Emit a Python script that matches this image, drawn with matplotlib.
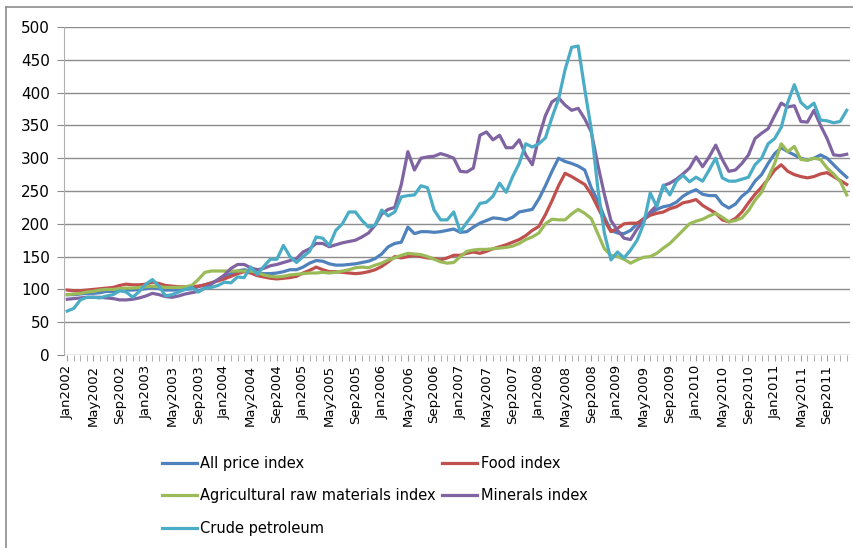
import matplotlib
matplotlib.use('Agg')
import matplotlib.pyplot as plt
from matplotlib.lines import Line2D

# monthly indices, Jan 2002 .. Dec 2011 (2000 = 100)
all_price = [92, 92, 93, 94, 94, 95, 97, 97, 98, 99, 99, 100,
             101, 103, 101, 99, 99, 99, 100, 101, 104, 107, 110, 114,
             119, 124, 128, 130, 128, 125, 124, 124, 125, 127, 130, 130,
             134, 140, 144, 143, 139, 137, 137, 138, 139, 141, 143, 147,
             154, 165, 170, 172, 195, 185, 188, 188, 187, 188, 190, 192,
             187, 188, 195, 201, 205, 209, 208, 206, 210, 218, 220, 222,
             238, 258, 280, 300, 295, 292, 288, 282, 255, 235, 210, 190,
             186, 185, 190, 200, 208, 216, 222, 226, 228, 233, 242, 248,
             252, 245, 243, 243, 230, 224, 230, 242, 250, 265, 275, 292,
             307, 316, 310, 305, 300, 297, 300, 305, 300, 290, 280, 271]

food = [99, 98, 98, 99, 100, 101, 102, 103, 106, 108, 107, 107,
        108, 111, 109, 106, 105, 104, 104, 104, 105, 107, 110, 113,
        116, 120, 124, 127, 125, 121, 119, 117, 116, 117, 118, 120,
        125, 129, 134, 130, 127, 127, 126, 125, 124, 125, 127, 130,
        135, 142, 150, 148, 150, 152, 150, 148, 147, 145, 148, 152,
        152, 155, 157, 155, 158, 162, 165, 168, 172, 176, 182, 190,
        196, 214, 235, 258, 277, 272, 266, 260, 245, 225, 205, 188,
        193, 200, 201, 201, 207, 213, 216, 218, 223, 226, 232, 234,
        237, 228, 222, 216, 206, 203, 208, 218, 232, 245, 256, 268,
        282, 290, 280, 275, 272, 270, 272, 276, 278, 272, 266, 260]

agri = [92, 93, 94, 96, 97, 99, 100, 100, 101, 102, 102, 103,
        104, 105, 104, 103, 103, 103, 104, 106, 115, 126, 128, 128,
        128, 128, 128, 128, 128, 126, 122, 120, 119, 120, 122, 123,
        124, 125, 125, 126, 125, 126, 128, 130, 133, 134, 133, 137,
        140, 145, 148, 152, 155, 154, 153, 150, 146, 142, 140, 141,
        150, 158, 160, 161, 161, 162, 163, 164, 166, 170, 176, 180,
        186, 200, 207, 206, 206, 215, 222, 216, 208, 185, 162, 152,
        150, 146, 140, 145, 149, 150, 155, 163, 170, 180, 190, 200,
        204, 207, 212, 216, 210, 203, 205, 209, 220, 236, 248, 270,
        292, 322, 310, 318, 298, 297, 300, 298, 285, 276, 265, 244]

minerals = [85, 86, 87, 88, 88, 88, 87, 86, 84, 84, 85, 87,
            90, 94, 92, 89, 88, 90, 93, 95, 97, 102, 108, 115,
            122, 132, 138, 138, 133, 130, 132, 136, 138, 141, 144, 147,
            157, 162, 170, 170, 165, 168, 171, 173, 175, 180, 186, 198,
            215, 222, 225, 260, 310, 282, 300, 302, 303, 307, 304, 300,
            280, 279, 285, 335, 340, 328, 335, 316, 316, 328, 305, 290,
            332, 365, 386, 392, 381, 373, 376, 360, 340, 290, 245, 205,
            190, 178, 176, 192, 205, 218, 228, 258, 262, 268, 276, 285,
            302, 287, 302, 320, 298, 280, 282, 292, 305, 330, 338, 345,
            365, 384, 378, 380, 356, 355, 373, 350, 330, 305, 304, 306]

crude = [67, 71, 84, 88, 88, 87, 90, 92, 98, 96, 88, 97,
         108, 115, 105, 90, 92, 96, 100, 103, 96, 102, 103, 106,
         111, 110, 119, 118, 134, 123, 135, 146, 146, 167, 150, 141,
         150, 158, 180, 178, 167, 190, 200, 218, 218, 205, 195, 198,
         221, 212, 218, 241, 243, 244, 258, 255, 221, 206, 206, 218,
         188, 202, 215, 231, 233, 242, 262, 248, 272, 292, 322, 317,
         322, 331, 362, 390, 435, 469, 471, 405, 344, 254, 186, 145,
         157, 148, 160, 175, 200, 247, 226, 259, 244, 265, 274, 264,
         271, 265, 282, 300, 270, 265, 265, 268, 271, 290, 300, 322,
         330, 347, 385, 412, 385, 376, 384, 358, 357, 354, 356, 373]

month_names = ['Jan', 'May', 'Sep']
years = list(range(2002, 2012))
tick_labels = [f'{m}{y}' for y in years for m in month_names]

series = [
    ('All price index', all_price, '#4F81BD'),
    ('Food index', food, '#C0504D'),
    ('Agricultural raw materials index', agri, '#9BBB59'),
    ('Minerals index', minerals, '#8064A2'),
    ('Crude petroleum', crude, '#4BACC6'),
]

W, H = 854, 548
fig = plt.figure(figsize=(W / 100, H / 100), dpi=100)
ax = fig.add_axes([64 / W, 1 - 355 / H, (850 - 64) / W, 328 / H])

x = list(range(len(all_price)))
lines = {}
for name, vals, col in series:
    lines[name], = ax.plot(x, vals, color=col, lw=2.3, solid_joinstyle='round', label=name)

ax.set_xlim(-0.5, len(x) - 0.5)
ax.set_ylim(0, 500)
ax.set_yticks(range(0, 501, 50))
ax.yaxis.grid(True, color='#8c8c8c', lw=1.0)
ax.set_axisbelow(True)
for s in ['top', 'right', 'bottom']:
    ax.spines[s].set_visible(False)
ax.spines['left'].set_color('#b0b0b0')
ax.tick_params(axis='y', length=5, color='#8c8c8c', pad=5, labelsize=11)

ax.set_xticks(range(0, len(x), 4))
ax.set_xticklabels(tick_labels, rotation=90, fontsize=9.5)
ax.set_xticks(range(len(x)), minor=True)
ax.tick_params(axis='x', which='both', length=4, color='#a0a0a0', pad=3)

# legend laid out row by row in two columns
order = ['All price index', 'Agricultural raw materials index', 'Crude petroleum',
         'Food index', 'Minerals index']
fig.legend([lines[n] for n in order], order, ncol=2, frameon=False,
           loc='upper left', bbox_to_anchor=(156 / W, 1 - 450 / H),
           fontsize=10.5, handlelength=2.4, handletextpad=0.25,
           columnspacing=0.4, labelspacing=1.2, borderaxespad=0)

# chart border (left and top edges visible)
fig.add_artist(Line2D([6 / W, 6 / W], [0, 1 - 7 / H], transform=fig.transFigure,
                      color='#8c8c8c', lw=1.2))
fig.add_artist(Line2D([6 / W, 1], [1 - 7 / H, 1 - 7 / H], transform=fig.transFigure,
                      color='#8c8c8c', lw=1.2))

fig.savefig('out.png', dpi=100)
